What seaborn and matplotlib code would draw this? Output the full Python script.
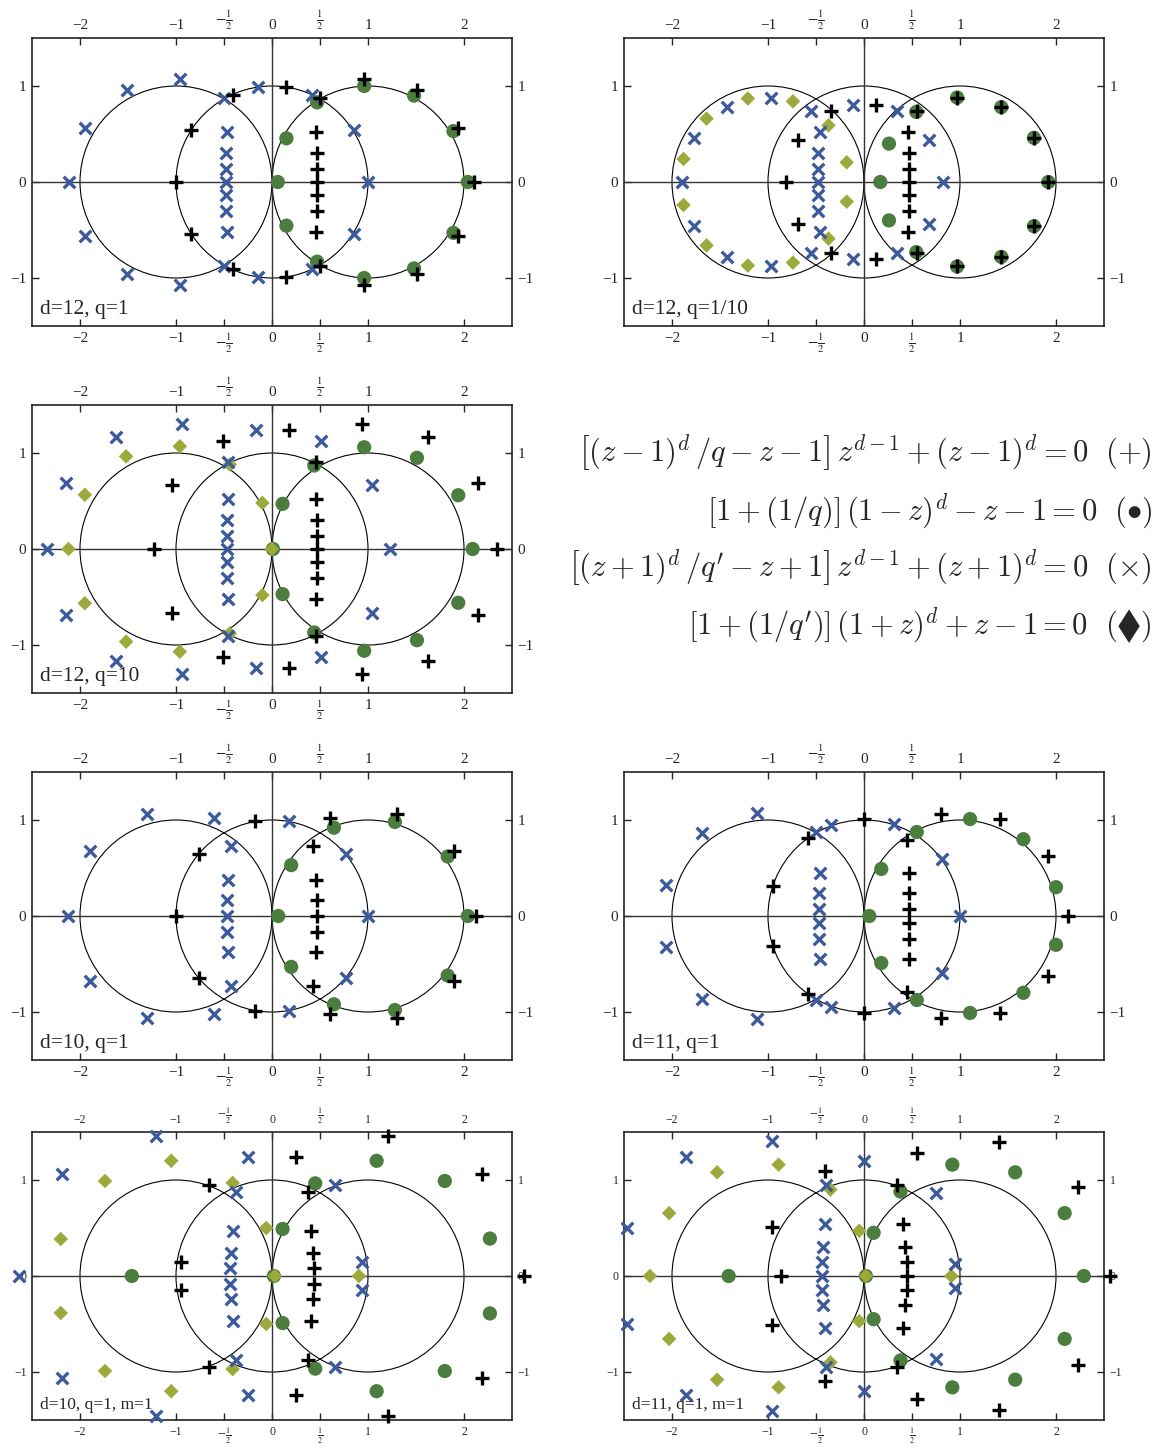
import numpy as np
import pandas as pd
import seaborn as sns
import matplotlib.pyplot as plt
from matplotlib.patches import Circle

sns.set_style('ticks')
plt.rcParams['font.family'] = ['Liberation Serif', 'DejaVu Serif']
plt.rcParams['mathtext.fontset'] = 'stix'

# colours of the four root families
c_plus = 'black'
c_dot = '#4a7d3e'
c_cross = '#3c5a9c'
c_diam = '#9caa3c'

xticks = [-2, -1, -0.5, 0, 0.5, 1, 2]
xticklabels = ['\u22122', '\u22121', r'$-\frac{1}{2}$', '0', r'$\frac{1}{2}$', '1', '2']
yticks = [-1, 0, 1]
yticklabels = ['\u22121', '0', '1']

# ---- d=12, q=1
p1_plus = [(0.96, 1.07), (1.51, 0.96), (1.94, 0.56), (2.10, 0), (1.94, -0.56), (1.51, -0.96), (0.96, -1.07),
           (0.50, 0.87), (0.46, 0.52), (0.47, 0.30), (0.47, 0.135), (0.47, 0), (0.47, -0.135), (0.47, -0.30),
           (0.46, -0.52), (0.50, -0.87), (0.15, 0.99), (0.15, -0.99), (-0.41, 0.91), (-0.41, -0.91),
           (-0.84, 0.54), (-0.84, -0.54), (-1.0, 0)]
p1_dot = [(0.96, 1.0), (1.48, 0.90), (1.89, 0.53), (2.04, 0), (1.89, -0.53), (1.48, -0.90), (0.96, -1.0),
          (0.47, 0.83), (0.15, 0.455), (0.06, 0), (0.15, -0.455), (0.47, -0.83)]
p1_cross = [(-0.96, 1.07), (-1.51, 0.96), (-1.95, 0.56), (-2.11, 0), (-1.95, -0.56), (-1.51, -0.96), (-0.96, -1.07),
            (-0.50, 0.87), (-0.47, 0.52), (-0.475, 0.30), (-0.475, 0.135), (-0.475, 0), (-0.475, -0.135),
            (-0.475, -0.30), (-0.47, -0.52), (-0.50, -0.87), (-0.15, 0.99), (-0.15, -0.99), (0.42, 0.91),
            (0.42, -0.91), (0.85, 0.54), (0.85, -0.54), (1.0, 0)]
p1_diam = []

# ---- d=12, q=1/10
p2_plus = [(0.97, 0.88), (1.43, 0.78), (1.77, 0.46), (1.92, 0), (1.77, -0.46), (1.43, -0.78), (0.97, -0.88),
           (0.55, 0.74), (0.46, 0.52), (0.465, 0.30), (0.465, 0.135), (0.465, 0), (0.465, -0.135), (0.465, -0.30),
           (0.46, -0.52), (0.55, -0.74), (0.12, 0.80), (0.12, -0.80), (-0.34, 0.74), (-0.34, -0.74),
           (-0.69, 0.44), (-0.69, -0.44), (-0.81, 0)]
p2_dot = [(0.97, 0.88), (1.43, 0.78), (1.77, 0.46), (1.92, 0), (1.77, -0.46), (1.43, -0.78), (0.97, -0.88),
          (0.545, 0.73), (0.26, 0.40), (0.17, 0), (0.26, -0.40), (0.545, -0.73)]
p2_cross = [(-0.97, 0.88), (-1.43, 0.78), (-1.77, 0.46), (-1.90, 0), (-1.77, -0.46), (-1.43, -0.78), (-0.97, -0.88),
            (-0.55, 0.74), (-0.46, 0.52), (-0.48, 0.30), (-0.48, 0.135), (-0.48, 0), (-0.48, -0.135),
            (-0.48, -0.30), (-0.46, -0.52), (-0.55, -0.74), (-0.11, 0.80), (-0.11, -0.80), (0.34, 0.74),
            (0.34, -0.74), (0.68, 0.44), (0.68, -0.44), (0.82, 0)]
p2_diam = [(-1.21, 0.87), (-1.64, 0.66), (-1.88, 0.24), (-1.88, -0.24), (-1.64, -0.66), (-1.21, -0.87),
           (-0.74, 0.84), (-0.74, -0.84), (-0.37, 0.59), (-0.37, -0.59), (-0.18, 0.205), (-0.18, -0.205)]

# ---- d=12, q=10
p3_plus = [(0.94, 1.30), (1.63, 1.17), (2.15, 0.69), (2.34, 0), (2.15, -0.69), (1.63, -1.17), (0.94, -1.30),
           (0.46, 0.905), (0.46, 0.52), (0.47, 0.30), (0.47, 0.135), (0.47, 0), (0.47, -0.135), (0.47, -0.30),
           (0.46, -0.52), (0.46, -0.905), (0.18, 1.24), (0.18, -1.24), (-0.51, 1.12), (-0.51, -1.12),
           (-1.04, 0.67), (-1.04, -0.67), (-1.23, 0)]
p3_dot = [(0.96, 1.06), (1.51, 0.95), (1.94, 0.56), (2.09, 0), (1.94, -0.56), (1.51, -0.95), (0.96, -1.06),
          (0.44, 0.87), (0.11, 0.47), (0.01, 0), (0.11, -0.47), (0.44, -0.87)]
p3_cross = [(-0.94, 1.30), (-1.62, 1.17), (-2.15, 0.69), (-2.34, 0), (-2.15, -0.69), (-1.62, -1.17), (-0.94, -1.30),
            (-0.46, 0.905), (-0.46, 0.52), (-0.47, 0.30), (-0.47, 0.135), (-0.47, 0), (-0.47, -0.135),
            (-0.47, -0.30), (-0.46, -0.52), (-0.46, -0.905), (-0.17, 1.24), (-0.17, -1.24), (0.51, 1.12),
            (0.51, -1.12), (1.04, 0.67), (1.04, -0.67), (1.23, 0)]
p3_diam = [(-0.96, 1.07), (-1.52, 0.965), (-1.95, 0.565), (-2.12, 0), (-1.95, -0.565), (-1.52, -0.965),
           (-0.96, -1.07), (-0.44, 0.88), (-0.10, 0.48), (0.0, 0), (-0.10, -0.48), (-0.44, -0.88)]

# ---- d=10, q=1
p5_plus = [(1.30, 1.06), (1.90, 0.68), (2.13, 0), (1.90, -0.68), (1.30, -1.06), (0.605, 1.02), (0.43, 0.73),
           (0.46, 0.38), (0.47, 0.17), (0.47, 0), (0.47, -0.17), (0.46, -0.38), (0.43, -0.73), (0.605, -1.02),
           (-0.18, 0.99), (-0.18, -0.99), (-0.76, 0.645), (-0.76, -0.645), (-1.0, 0)]
p5_dot = [(1.28, 0.98), (1.83, 0.62), (2.04, 0), (1.83, -0.62), (1.28, -0.98), (0.645, 0.92), (0.20, 0.53),
          (0.065, 0), (0.20, -0.53), (0.645, -0.92)]
p5_cross = [(-1.30, 1.06), (-1.90, 0.68), (-2.13, 0), (-1.90, -0.68), (-1.30, -1.06), (-0.605, 1.02), (-0.43, 0.73),
            (-0.46, 0.38), (-0.47, 0.17), (-0.47, 0), (-0.47, -0.17), (-0.46, -0.38), (-0.43, -0.73),
            (-0.605, -1.02), (0.18, 0.99), (0.18, -0.99), (0.77, 0.645), (0.77, -0.645), (1.0, 0)]
p5_diam = []

# ---- d=11, q=1
p6_plus = [(0.80, 1.06), (1.42, 1.01), (1.92, 0.62), (2.12, 0), (1.92, -0.62), (1.42, -1.01), (0.80, -1.06),
           (0.45, 0.795), (0.465, 0.45), (0.465, 0.235), (0.47, 0.078), (0.47, -0.078), (0.465, -0.235),
           (0.465, -0.45), (0.45, -0.795), (0.0, 1.01), (0.0, -1.01), (-0.585, 0.81), (-0.585, -0.81),
           (-0.945, 0.31), (-0.945, -0.31)]
p6_dot = [(1.105, 1.01), (1.66, 0.80), (2.0, 0.30), (2.0, -0.30), (1.66, -0.80), (1.105, -1.01), (0.55, 0.875),
          (0.18, 0.49), (0.055, 0), (0.18, -0.49), (0.55, -0.875)]
p6_cross = [(-1.11, 1.075), (-1.69, 0.86), (-2.06, 0.32), (-2.06, -0.32), (-1.69, -0.86), (-1.11, -1.075),
            (-0.50, 0.87), (-0.34, 0.945), (-0.46, 0.45), (-0.47, 0.235), (-0.47, 0.075), (-0.47, -0.075),
            (-0.47, -0.235), (-0.46, -0.45), (-0.50, -0.87), (-0.34, -0.945), (0.315, 0.96), (0.315, -0.96),
            (0.81, 0.59), (0.81, -0.59), (1.0, 0)]
p6_diam = []

# ---- d=10, q=1, m=1
p7_plus = [(1.21, 1.46), (2.19, 1.06), (2.63, 0), (2.19, -1.06), (1.21, -1.46), (0.25, 1.24), (0.25, -1.24),
           (0.37, 0.88), (0.37, -0.88), (0.405, 0.47), (0.43, 0.24), (0.435, 0.08), (0.435, -0.08),
           (0.43, -0.24), (0.405, -0.47), (-0.66, 0.95), (-0.66, -0.95), (-0.945, 0.15), (-0.945, -0.15)]
p7_dot = [(1.09, 1.20), (1.80, 0.99), (2.27, 0.39), (2.27, -0.39), (1.80, -0.99), (1.09, -1.20), (0.45, 0.965),
          (0.45, -0.965), (0.11, 0.49), (0.11, -0.49), (0.02, 0), (-1.46, 0)]
p7_cross = [(-1.21, 1.46), (-2.19, 1.06), (-2.64, 0), (-2.19, -1.06), (-1.21, -1.46), (-0.25, 1.24), (-0.25, -1.24),
            (-0.37, 0.88), (-0.37, -0.88), (-0.41, 0.47), (-0.43, 0.24), (-0.435, 0.08), (-0.435, -0.08),
            (-0.43, -0.24), (-0.41, -0.47), (0.66, 0.95), (0.66, -0.95), (0.935, 0.15), (0.935, -0.15)]
p7_diam = [(-1.05, 1.20), (-1.74, 0.99), (-2.20, 0.385), (-2.20, -0.385), (-1.74, -0.99), (-1.05, -1.20),
           (-0.41, 0.97), (-0.41, -0.97), (-0.06, 0.50), (-0.06, -0.50), (0.03, 0), (0.905, 0)]

# ---- d=11, q=1, m=1
p8_plus = [(1.41, 1.40), (0.55, 1.285), (2.23, 0.925), (2.56, 0), (2.23, -0.925), (1.41, -1.40), (0.55, -1.285),
           (-0.41, 1.095), (-0.41, -1.095), (0.345, 0.95), (0.345, -0.95), (0.41, 0.54), (0.43, 0.305),
           (0.445, 0.145), (0.445, 0), (0.445, -0.145), (0.43, -0.305), (0.41, -0.54), (-0.96, 0.51),
           (-0.96, -0.51), (-0.86, 0)]
p8_dot = [(0.92, 1.16), (1.575, 1.08), (2.09, 0.655), (2.29, 0), (2.09, -0.655), (1.575, -1.08), (0.92, -1.16),
          (0.38, 0.88), (0.38, -0.88), (0.10, 0.45), (0.10, -0.45), (0.02, 0), (-1.41, 0)]
p8_cross = [(-0.96, 1.405), (-1.85, 1.24), (-2.47, 0.495), (-2.47, -0.495), (-1.85, -1.24), (-0.96, -1.405),
            (0.0, 1.20), (0.0, -1.20), (-0.40, 0.95), (-0.40, -0.95), (-0.41, 0.54), (-0.425, 0.305),
            (-0.435, 0.145), (-0.435, 0), (-0.435, -0.145), (-0.425, -0.305), (-0.41, -0.54), (0.75, 0.865),
            (0.75, -0.865), (0.945, 0.13), (0.945, -0.13)]
p8_diam = [(-0.89, 1.16), (-1.53, 1.08), (-2.03, 0.655), (-2.23, 0), (-2.03, -0.655), (-1.53, -1.08),
           (-0.89, -1.16), (-0.35, 0.90), (-0.35, -0.90), (-0.05, 0.47), (-0.05, -0.47), (0.02, 0), (0.91, 0)]

labels = ['d=12, q=1', 'd=12, q=1/10', 'd=12, q=10', 'd=10, q=1', 'd=11, q=1',
          'd=10, q=1, m=1', 'd=11, q=1, m=1']

equations = [
    r'$\left[(z-1)^d\,/q-z-1\right]\,z^{d-1}+(z-1)^d=0\ \ (+)$',
    r'$[1+(1/q)]\,(1-z)^d-z-1=0\ \ (\bullet)$',
    r'$\left[(z+1)^d\,/q^{\prime}-z+1\right]\,z^{d-1}+(z+1)^d=0\ \ (\times)$',
    '$[1+(1/q^{\\prime})]\\,(1+z)^d+z-1=0\\ \\ (\u29eb)$',
]

W, H = 1156, 1454
fig = plt.figure(figsize=(W / 100, H / 100), dpi=100)


def pix_axes(x0, y0, w=480, h=288):
    return fig.add_axes([x0 / W, 1 - (y0 + h) / H, w / W, h / H])


def draw_panel(ax, plus, dot, cross, diam, label, small=False):
    ax.set_xlim(-2.5, 2.5)
    ax.set_ylim(-1.5, 1.5)
    for cx in (-1, 0, 1):
        ax.add_patch(Circle((cx, 0), 1, fill=False, lw=0.8, color='black', zorder=1))
    ax.axhline(0, color='#333333', lw=1.0, zorder=1)
    ax.axvline(0, color='#333333', lw=1.0, zorder=1)

    kw = dict(ax=ax, legend=False, clip_on=False)
    if dot:
        d = pd.DataFrame(dot, columns=['x', 'y'])
        sns.scatterplot(data=d, x='x', y='y', marker='o', s=105, color=c_dot, edgecolor='none', zorder=2, **kw)
    if diam:
        d = pd.DataFrame(diam, columns=['x', 'y'])
        sns.scatterplot(data=d, x='x', y='y', marker='D', s=55, color=c_diam, edgecolor='none', zorder=3, **kw)
    if cross:
        d = pd.DataFrame(cross, columns=['x', 'y'])
        sns.scatterplot(data=d, x='x', y='y', marker='x', s=70, color=c_cross, linewidth=2.4, zorder=4, **kw)
    if plus:
        d = pd.DataFrame(plus, columns=['x', 'y'])
        sns.scatterplot(data=d, x='x', y='y', marker='+', s=115, color=c_plus, linewidth=2.4, zorder=5, **kw)

    fs = 8.5 if small else 11
    ax.set_xticks(xticks)
    ax.set_xticklabels(xticklabels)
    ax.set_yticks(yticks)
    ax.set_yticklabels(yticklabels)
    ax.tick_params(direction='in', top=True, right=True, labeltop=True, labelright=True,
                   length=5, width=1, labelsize=fs, pad=4)
    ax.set_xlabel('')
    ax.set_ylabel('')
    for s in ax.spines.values():
        s.set_linewidth(1.2)
        s.set_color('#222222')
    ax.text(0.017, 0.025, label, transform=ax.transAxes, ha='left', va='bottom',
            fontsize=12.5 if small else 15.5, zorder=6)


layout = [
    (32, 38, p1_plus, p1_dot, p1_cross, p1_diam, False),
    (624, 38, p2_plus, p2_dot, p2_cross, p2_diam, False),
    (32, 405, p3_plus, p3_dot, p3_cross, p3_diam, False),
    (32, 772, p5_plus, p5_dot, p5_cross, p5_diam, False),
    (624, 772, p6_plus, p6_dot, p6_cross, p6_diam, False),
    (32, 1132, p7_plus, p7_dot, p7_cross, p7_diam, True),
    (624, 1132, p8_plus, p8_dot, p8_cross, p8_diam, True),
]

for (x0, y0, pl, dt, cr, dm, small), lab in zip(layout, labels):
    ax = pix_axes(x0, y0)
    draw_panel(ax, pl, dt, cr, dm, lab, small)

eq_base = [462, 520, 577, 635]
for eq, yb in zip(equations, eq_base):
    fig.text(1152 / W, 1 - yb / H, eq, ha='right', va='baseline', fontsize=22, math_fontfamily='cm')

fig.savefig('out.png', dpi=100)
